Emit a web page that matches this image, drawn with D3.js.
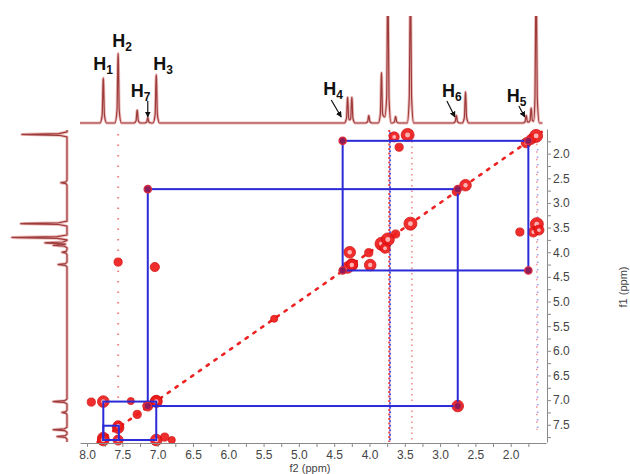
<!DOCTYPE html>
<html>
<head>
<meta charset="utf-8">
<script src="https://cdn.jsdelivr.net/npm/d3@7"></script>
<style>
  body { margin: 0; background: #fff; }
  svg { display: block; }
  text { font-family: "Liberation Sans", Arial, sans-serif; }
</style>
</head>
<body>
<div id="chart"></div>
<script>
// ---------- data ----------
// f2 (top) projection: peak shift (ppm) and height (100 = top of panel, >100 clipped)
const topPeakPpm    = [7.77, 7.56, 7.29, 7.14, 7.02, 4.31, 4.25, 4.01, 3.83, 3.74, 3.63, 3.42, 2.77, 2.64, 1.78, 1.71, 1.64];
const topPeakHeight = [42,   65,   12,   5,    45,   24,   24,   7,    47,   140,  6,    140,  7,    29,   7,    14,   140];

// f1 (left) projection
const leftPeakPpm    = [1.61, 2.59, 3.42, 3.70, 3.81, 3.86, 4.00, 4.25, 7.03, 7.25, 7.60, 7.74];
const leftPeakHeight = [82,   11,   84,   100,  40,   25,   9,    16,   25,   9,    25,   18];

// 2D peaks: f2 shift, f1 shift, intensity (1..5)
const peakF2  = [7.77, 7.56, 7.29, 7.02, 4.31, 4.25, 4.01, 3.83, 3.74, 3.63, 3.42, 2.77, 2.64, 1.78, 1.71, 1.64,
                 7.77, 7.02, 7.77, 7.02, 7.56, 7.56, 2.75, 7.14, 6.90, 6.80, 7.94, 7.38,
                 3.46, 3.65, 3.58, 1.63, 1.68, 1.87, 4.28, 4.25, 3.99, 7.04, 7.56, 5.35, 1.60, 3.78];
const peakF1  = [7.77, 7.56, 7.29, 7.02, 4.31, 4.25, 4.01, 3.83, 3.74, 3.63, 3.42, 2.77, 2.64, 1.78, 1.71, 1.64,
                 7.03, 7.03, 7.81, 7.81, 7.52, 7.81, 7.12, 7.12, 7.75, 7.81, 7.04, 7.02,
                 1.62, 1.66, 1.87, 3.43, 3.59, 3.59, 4.00, 4.26, 4.26, 4.30, 4.20, 5.35, 3.55, 3.92];
const peakInt = [4, 4, 2, 4, 4, 4, 2, 5, 5, 2, 5, 2, 4, 3, 3, 5,
                 4, 4, 4, 4, 3, 3, 4, 3, 2, 1.5, 2, 1.5,
                 5, 3, 2, 5, 3, 2, 4, 4, 4, 2.5, 2, 1.5, 3, 3];

// correlation boxes drawn on the map (f2 from..to, f1 from..to)
const boxF2 = [[7.14, 2.75], [4.38, 1.75], [7.77, 7.02], [7.77, 7.55]];
const boxF1 = [[2.72, 7.12], [1.74, 4.37], [7.03, 7.81], [7.52, 7.81]];

// t1-noise streaks (f2 ppm)
const streakF2 = [7.56, 3.72, 3.40, 1.63];

// proton labels and the shift each one marks
const labelNames = ["1", "2", "7", "3", "4", "6", "5"];
const labelPpm   = [7.77, 7.56, 7.14, 7.02, 4.40, 2.79, 1.80];

const axisTicks = d3.range(2, 8.01, 0.25).concat([1.75]);

// ---------- setup ----------
const width = 630, height = 474;
const svg = d3.select('#chart').append('svg')
  .attr('width', width).attr('height', height);

const xs = d3.scaleLinear().domain([8.1, 1.5]).range([80, 546]);   // f2
const ys = d3.scaleLinear().domain([1.5, 7.85]).range([129, 442]); // f1
const topY = d3.scaleLinear().domain([0, 100]).range([123, 16]);
const leftX = d3.scaleLinear().domain([0, 100]).range([67, 12]);
const rScale = d3.scaleSqrt().domain([0, 5]).range([0, 6.5]);

// build a spike-like trace from a peak list (narrow top, small skirt)
function tracePoints(ppm, h, hi, lo, w) {
  const idx = d3.range(ppm.length).sort((a, b) => ppm[b] - ppm[a]);
  const pts = [[hi, 0]];
  idx.forEach((k, j) => {
    const p = ppm[k];
    const prev = j > 0 ? ppm[idx[j - 1]] : null;
    if (prev === null || prev - p >= 2 * w) pts.push([p + w, 0]);
    pts.push([p + w * 0.35, h[k] * 0.18], [p + w * 0.08, h[k] * 0.9], [p, h[k]],
             [p - w * 0.08, h[k] * 0.9], [p - w * 0.35, h[k] * 0.18]);
    const nk = j < idx.length - 1 ? idx[j + 1] : null;
    if (nk !== null && p - ppm[nk] < 2 * w) pts.push([(p + ppm[nk]) / 2, 0.12 * Math.min(h[k], h[nk])]);
    else pts.push([p - w, 0]);
  });
  pts.push([lo, 0]);
  return pts;
}

// ---------- 1D projections ----------
svg.append('clipPath').attr('id', 'topclip')
  .append('rect').attr('x', 0).attr('y', 16).attr('width', width).attr('height', 120);

const topPts = tracePoints(topPeakPpm, topPeakHeight, 8.1, 1.55, 0.045);
const topLine = d3.line().x(d => xs(d[0])).y(d => topY(d[1])).curve(d3.curveMonotoneX);
const leftPts = tracePoints(leftPeakPpm, leftPeakHeight, 7.85, 1.52, 0.05);
const leftLine = d3.line().x(d => leftX(d[1])).y(d => ys(d[0]));

[[topPts, topLine, 'url(#topclip)'], [leftPts, leftLine, null]].forEach(([pts, gen, clip]) => {
  const g = svg.append('g').attr('clip-path', clip);
  g.append('path').attr('d', gen(pts)).attr('fill', 'none')
    .attr('stroke', '#ecbcbc').attr('stroke-width', 3).attr('stroke-linejoin', 'round');
  g.append('path').attr('d', gen(pts)).attr('fill', 'none')
    .attr('stroke', '#9e3b3b').attr('stroke-width', 1.2).attr('stroke-linejoin', 'round');
});

// ---------- 2D map ----------
const map = svg.append('g');

// streaks
const streakStyle = [
  { c: ['#e84040'], dash: '1.5,9', op: 0.65, y0: 1.6, y1: 7.0, w: 2 },
  { c: ['#e02020', '#3a3ae0'], dash: '2,2.5', op: 0.85, y0: 1.52, y1: 7.85, w: 2 },
  { c: ['#e85050'], dash: '1.5,4', op: 0.6, y0: 1.52, y1: 7.85, w: 1.8 },
  { c: ['#e84040', '#5050e0'], dash: '1.5,6', op: 0.55, y0: 1.8, y1: 7.6, w: 1.6 }
];
streakF2.forEach((p, i) => {
  const s = streakStyle[i];
  s.c.forEach((col, j) => {
    map.append('line')
      .attr('x1', xs(p) + j * 0.8).attr('x2', xs(p) + j * 0.8)
      .attr('y1', ys(s.y0)).attr('y2', ys(s.y1))
      .attr('stroke', col).attr('stroke-width', s.w).attr('opacity', s.op)
      .attr('stroke-dasharray', s.dash).attr('stroke-dashoffset', j * 2.2);
  });
});

// diagonal
map.append('line')
  .attr('x1', xs(7.85)).attr('y1', ys(7.85)).attr('x2', xs(1.56)).attr('y2', ys(1.56))
  .attr('stroke', '#ee2222').attr('stroke-width', 2.6).attr('stroke-linecap', 'round')
  .attr('stroke-dasharray', '2.5,7');

// peaks
const peaks = d3.range(peakF2.length).map(i => ({ f2: peakF2[i], f1: peakF1[i], v: peakInt[i] }));
const pg = map.selectAll('g.peak').data(peaks).join('g').attr('class', 'peak')
  .attr('transform', d => `translate(${xs(d.f2)},${ys(d.f1)})`);
pg.append('circle').attr('r', d => rScale(d.v))
  .attr('fill', '#ee1c1c').attr('stroke', '#d00808').attr('stroke-width', 0.8).attr('opacity', 0.92);
pg.filter(d => d.v >= 3).append('circle').attr('r', d => rScale(d.v) * 0.38)
  .attr('fill', '#ffb4b4');

// boxes
boxF2.forEach((bx, i) => {
  const by = boxF1[i];
  map.append('rect')
    .attr('x', xs(bx[0])).attr('y', ys(by[0]))
    .attr('width', xs(bx[1]) - xs(bx[0])).attr('height', ys(by[1]) - ys(by[0]))
    .attr('fill', 'none').attr('stroke', '#2b2bd8').attr('stroke-width', 2);
});

// corner markers of the two large boxes
[0, 1].forEach(i => {
  const corners = [[boxF2[i][0], boxF1[i][0]], [boxF2[i][1], boxF1[i][0]],
                   [boxF2[i][1], boxF1[i][1]], [boxF2[i][0], boxF1[i][1]]];
  map.selectAll(null).data(corners).join('circle')
    .attr('cx', d => xs(d[0])).attr('cy', d => ys(d[1])).attr('r', 3.6)
    .attr('fill', '#8c1c5c').attr('stroke', '#d82a3a').attr('stroke-width', 1.4);
});

// ---------- axes ----------
const fmt = d => (Math.abs(d * 2 - Math.round(d * 2)) < 1e-6 && d <= 8) ? d.toFixed(1) : '';

const xAxis = svg.append('g').attr('transform', 'translate(0,443)')
  .call(d3.axisBottom(xs).tickValues(axisTicks.filter(t => t <= 8)).tickFormat(fmt)
    .tickSize(4).tickSizeOuter(0).tickPadding(3));
const yAxis = svg.append('g').attr('transform', 'translate(547,0)')
  .call(d3.axisRight(ys).tickValues(axisTicks.filter(t => t <= 7.75)).tickFormat(fmt)
    .tickSize(4).tickSizeOuter(0).tickPadding(2));
[xAxis, yAxis].forEach(a => {
  a.select('.domain').attr('stroke', '#8a8a8a');
  a.selectAll('.tick line').attr('stroke', '#8a8a8a');
  a.selectAll('.tick text').attr('fill', '#444').attr('font-size', 12)
    .attr('font-family', '"Liberation Sans", Arial, sans-serif');
});

svg.append('text').attr('x', 310).attr('y', 472).attr('text-anchor', 'middle')
  .attr('font-size', 11).attr('fill', '#444').text('f2 (ppm)');
svg.append('text').attr('transform', 'translate(627,287) rotate(-90)').attr('text-anchor', 'middle')
  .attr('font-size', 11).attr('fill', '#444').text('f1 (ppm)');

// ---------- proton labels ----------
svg.append('defs').append('marker').attr('id', 'arr')
  .attr('viewBox', '0 0 10 10').attr('refX', 9).attr('refY', 5)
  .attr('markerWidth', 5).attr('markerHeight', 5).attr('orient', 'auto')
  .append('path').attr('d', 'M0,0L10,5L0,10z').attr('fill', '#111');

// label layout: offset of text from the marked shift, baseline, arrow (from offset, y)
const labelLayout = [
  { dx: -10, y: 70 }, { dx: -6, y: 47 }, { dx: -17, y: 97, arrow: [0, 101] },
  { dx: -3, y: 70 }, { dx: -18, y: 95, arrow: [-10, 100] },
  { dx: -13, y: 97, arrow: [-8, 101] }, { dx: -18, y: 102, arrow: [-6, 106] }
];
labelNames.forEach((n, i) => {
  const L = labelLayout[i], x0 = xs(labelPpm[i]);
  const t = svg.append('text').attr('x', x0 + L.dx).attr('y', L.y)
    .attr('font-weight', 'bold').attr('fill', '#111');
  t.append('tspan').attr('font-size', 18).text('H');
  t.append('tspan').attr('font-size', 12).attr('dy', 4).text(n);
  if (L.arrow) {
    svg.append('line').attr('x1', x0 + L.arrow[0]).attr('y1', L.arrow[1])
      .attr('x2', x0).attr('y2', 117).attr('stroke', '#111').attr('stroke-width', 1.2)
      .attr('marker-end', 'url(#arr)');
  }
});
</script>
</body>
</html>
